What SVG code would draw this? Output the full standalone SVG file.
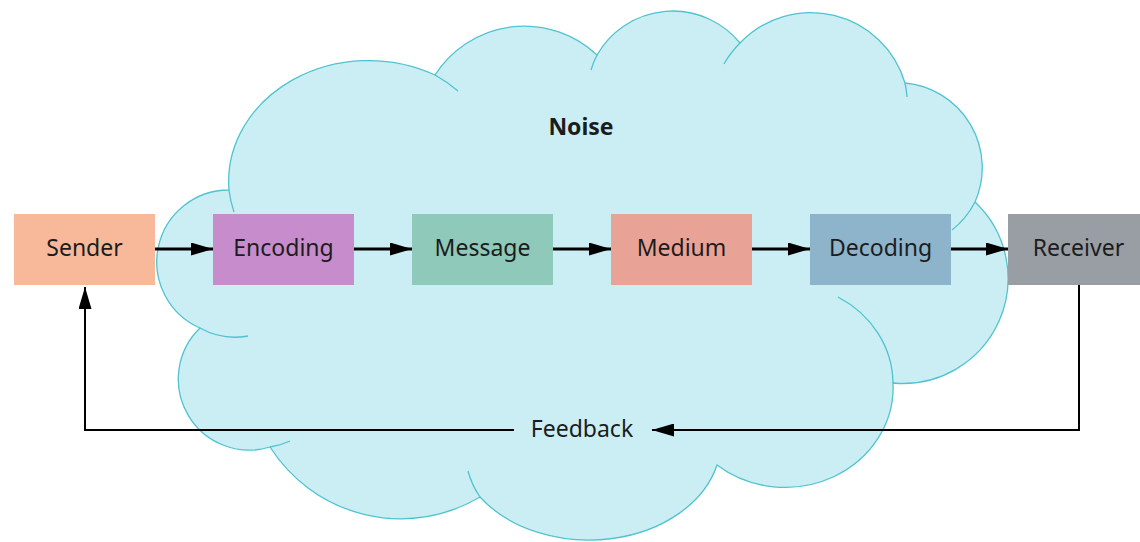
<svg xmlns="http://www.w3.org/2000/svg" width="1140" height="542" viewBox="0 0 1140 542">
<style>
.cloud{fill:#CBEEF4;stroke:#4FC3CF;stroke-width:1.3}
.inner{fill:none;stroke:#4FC3CF;stroke-width:1.3}
.lbl{font-family:"Noto Sans","Open Sans","Liberation Sans",sans-serif;font-size:23px;text-anchor:middle;fill:#1c1c1c}
.fw{stroke:#000;stroke-width:2.8;fill:none}
.fb{stroke:#000;stroke-width:2;fill:none}
</style>
<defs>
<marker id="ah" markerUnits="userSpaceOnUse" markerWidth="23" markerHeight="13" refX="22" refY="6.5" orient="auto">
<path d="M0,0 L22,6.5 L0,13 z" fill="#000"/>
</marker>
</defs>
<g id="noise">
<path class="cloud" d="M229,190 A140 121 0 0 1 435,75 A106 106 0 0 1 597,55 A87 87 0 0 1 740,43 A98 98 0 0 1 905,83 A85 85 0 0 1 975,202 A105 105 0 0 1 893,383 A108 100 0 0 1 717,465 A132 99 0 0 1 480,497 A155 155 0 0 1 270,447 A71 71 0 0 1 200,328 A72 72 0 0 1 229,190 Z"/>
<path class="inner" d="M229,190 A140 121 0 0 0 234,212 M435,75 A140 121 0 0 1 458,91 M597,55 A87 87 0 0 0 591,70 M740,43 A98 98 0 0 0 724,64 M905,83 A98 98 0 0 1 907,97 M975,202 A85 85 0 0 1 952,230 M893,383 A108 100 0 0 0 838,297 M480,497 A132 99 0 0 1 468,471 M270,447 A71 71 0 0 0 290,441 M200,328 A72 72 0 0 0 248,336"/>
<text class="lbl" x="581" y="135" font-weight="bold" fill="#111">Noise</text>
</g>
<g id="connectors">
<line class="fw" x1="155" y1="249" x2="213" y2="249" marker-end="url(#ah)"/>
<line class="fw" x1="354" y1="249" x2="412" y2="249" marker-end="url(#ah)"/>
<line class="fw" x1="553" y1="249" x2="611" y2="249" marker-end="url(#ah)"/>
<line class="fw" x1="752" y1="249" x2="810" y2="249" marker-end="url(#ah)"/>
<line class="fw" x1="951" y1="249" x2="1008" y2="249" marker-end="url(#ah)"/>
<polyline class="fb" points="1079,285 1079,430 652,430" marker-end="url(#ah)"/>
<polyline class="fb" points="514,430 85,430 85,287" marker-end="url(#ah)"/>
<text class="lbl" x="582" y="437">Feedback</text>
</g>
<g id="sender"><rect x="14" y="214" width="141" height="71" fill="#F8B99A"/><text class="lbl" x="84.5" y="256" fill="#2e1d16">Sender</text></g>
<g id="encoding"><rect x="213" y="214" width="141" height="71" fill="#C68CCC"/><text class="lbl" x="283.5" y="256" fill="#2a1630">Encoding</text></g>
<g id="message"><rect x="412" y="214" width="141" height="71" fill="#8EC9B9"/><text class="lbl" x="482.5" y="256" fill="#15251f">Message</text></g>
<g id="medium"><rect x="611" y="214" width="141" height="71" fill="#E9A396"/><text class="lbl" x="681.5" y="256" fill="#2d1712">Medium</text></g>
<g id="decoding"><rect x="810" y="214" width="141" height="71" fill="#8DB4CB"/><text class="lbl" x="880.5" y="256" fill="#142030">Decoding</text></g>
<g id="receiver"><rect x="1008" y="214" width="141" height="71" fill="#999EA5"/><text class="lbl" x="1078.5" y="256" fill="#17191c">Receiver</text></g>
</svg>
